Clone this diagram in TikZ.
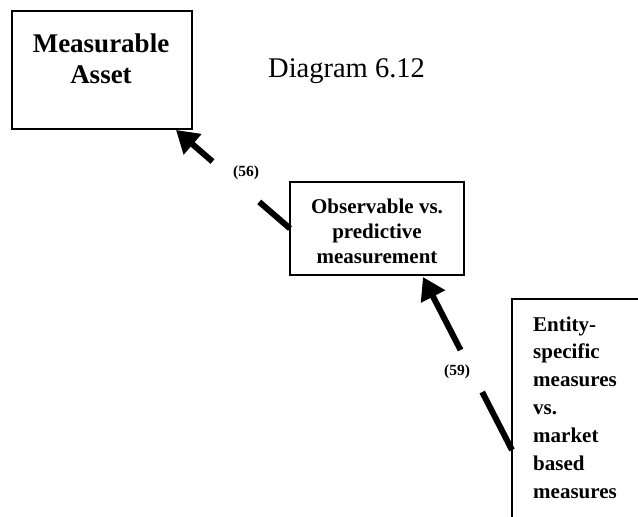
\documentclass[tikz,border=0pt]{standalone}
\usepackage{fontspec}
\setmainfont{Liberation Serif}
\usetikzlibrary{arrows.meta,calc}
% stacked lines whose baseline is the first line's baseline
\newcommand\centredlines[2]{\vtop{\baselineskip=#1\halign{\hfil##\hfil\cr#2\crcr}}}
\newcommand\leftlines[2]{\vtop{\baselineskip=#1\halign{##\hfil\cr#2\crcr}}}

\begin{document}
\begin{tikzpicture}[x=1pt,y=-1pt,
  frame/.style={draw,line width=1.6pt,inner sep=0pt,outer sep=0pt},
  boxtext/.style={inner sep=0pt,anchor=base},
  flow/.style={line width=6pt},
  flowhead/.style={line width=6pt,-{Triangle[length=22pt,width=26pt]}},
  tag/.style={font=\fontsize{15.5}{18}\selectfont\bfseries,inner sep=0pt}]
\useasboundingbox (0,0) rectangle (638,517);
\clip (0,0) rectangle (638,517);

% boxes
\node[frame,minimum width=180pt,minimum height=118pt,anchor=north west] (asset) at (12,11) {};
\node[frame,minimum width=174pt,minimum height=93pt,anchor=north west] (obs) at (290,182) {};
\node[frame,minimum width=200pt,minimum height=260pt,anchor=north west] (ent) at (512,299) {};

% box texts
\node[boxtext,font=\fontsize{27}{31}\selectfont\bfseries] (assettext) at (101,52)
  {\centredlines{31pt}{Measurable\cr Asset}};
\node[boxtext,font=\fontsize{21}{25}\selectfont\bfseries] (obstext) at (377,213)
  {\centredlines{25pt}{Observable vs.\cr predictive\cr measurement}};
\node[boxtext,anchor=base west,font=\fontsize{21}{28}\selectfont\bfseries] (enttext) at (533,331)
  {\leftlines{27.9pt}{Entity-\cr specific\cr measures\cr vs.\cr market\cr based\cr measures}};

% title
\node[anchor=base west,inner sep=0pt,font=\fontsize{28.5}{34}\selectfont] (title) at (268,77) {Diagram 6.12};

% connector (56): observable -> measurable asset
\coordinate (t1) at (obs.west);
\coordinate (h1) at ($(asset.south east)+(-16,1)$);
\draw[flow] (t1) -- ($(t1)!0.27!(h1)$);
\draw[flowhead] ($(t1)!0.68!(h1)$) -- (h1);
\node[tag] (l56) at (246,173) {(56)};

% connector (59): entity-specific -> observable
\coordinate (t2) at ($(ent.north west)+(0,151)$);
\coordinate (h2) at ($(obs.south west)+(133,2)$);
\draw[flow] (t2) -- ($(t2)!0.335!(h2)$);
\draw[flowhead] ($(t2)!0.578!(h2)$) -- (h2);
\node[tag] (l59) at (457,372) {(59)};
\end{tikzpicture}
\end{document}
